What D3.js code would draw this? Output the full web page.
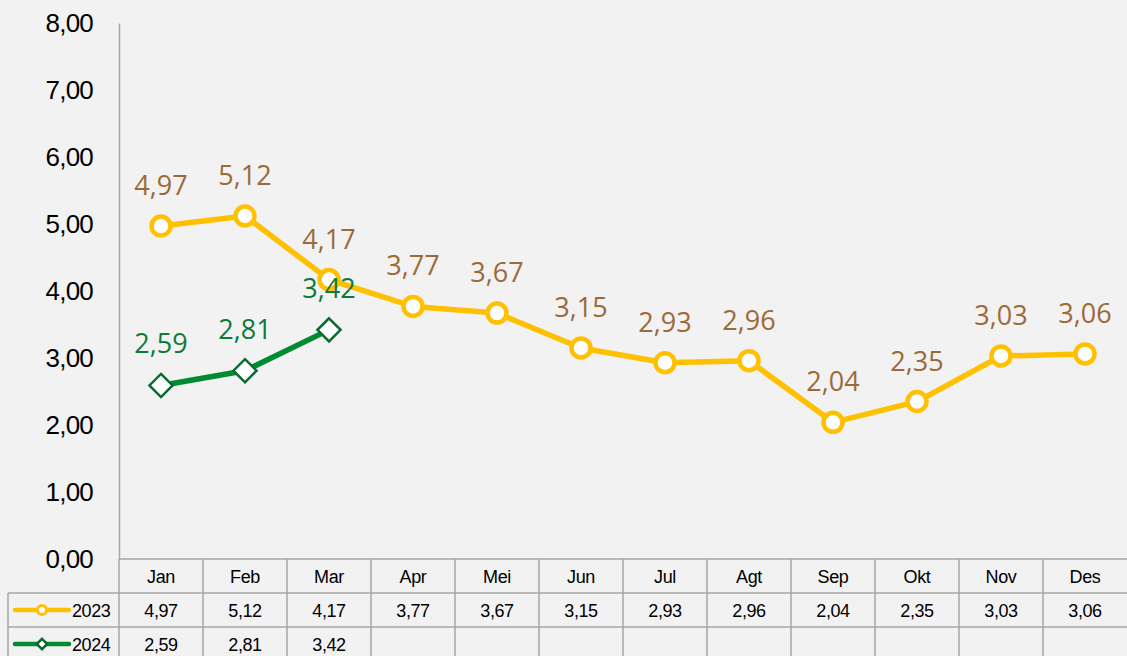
<!DOCTYPE html>
<html>
<head>
<meta charset="utf-8">
<script src="https://cdn.jsdelivr.net/npm/d3@7"></script>
<style>
  body { margin: 0; background: #f2f2f2; }
  svg { display: block; }
  .narrow { font-family: "Liberation Sans Narrow", "Arial Narrow", "Liberation Sans", sans-serif; }
</style>
</head>
<body>
<svg width="1127" height="656"></svg>
<script>
// Data
var months = ["Jan", "Feb", "Mar", "Apr", "Mei", "Jun", "Jul", "Agt", "Sep", "Okt", "Nov", "Des"];
var values2023 = [4.97, 5.12, 4.17, 3.77, 3.67, 3.15, 2.93, 2.96, 2.04, 2.35, 3.03, 3.06];
var values2024 = [2.59, 2.81, 3.42];
var yTicks = [0, 1, 2, 3, 4, 5, 6, 7, 8];

var svg = d3.select("svg"),
  width = +svg.attr("width"),
  height = +svg.attr("height");

var locale = d3.formatLocale({ decimal: ",", thousands: ".", grouping: [3], currency: ["", ""] });
var fmt = locale.format(".2f");

var gridColor = "#a6a6a6";
var yellow = "#ffc000";
var green = "#008a32";
var greenDark = "#0a6b31";

// Scales
var x = d3.scaleBand()
  .domain(months)
  .range([119, 1127]);

var y = d3.scaleLinear()
  .domain([0, 8])
  .range([559, 23]);

// Y axis
var yAxis = svg.append("g")
  .attr("class", "narrow")
  .attr("transform", "translate(119,0)")
  .call(d3.axisLeft(y).tickValues(yTicks).tickSize(0).tickPadding(26).tickFormat(fmt));
yAxis.select(".domain").attr("stroke", gridColor).attr("stroke-width", 1.5);
yAxis.selectAll("text")
  .attr("font-size", 26)
  .attr("font-family", null)
  .attr("letter-spacing", "-0.8px")
  .attr("fill", "#000");

// Table
var rowTop = [559, 593, 627, 661];
var table = svg.append("g").attr("class", "narrow");

// horizontal lines
table.append("line")
  .attr("x1", 119).attr("x2", width).attr("y1", rowTop[0]).attr("y2", rowTop[0])
  .attr("stroke", gridColor).attr("stroke-width", 1.5);
[rowTop[1], rowTop[2]].forEach(function(yy) {
  table.append("line")
    .attr("x1", 8).attr("x2", width).attr("y1", yy).attr("y2", yy)
    .attr("stroke", gridColor).attr("stroke-width", 1.5);
});
// vertical lines
table.append("line")
  .attr("x1", 8).attr("x2", 8).attr("y1", rowTop[1]).attr("y2", height)
  .attr("stroke", gridColor).attr("stroke-width", 1.5);
months.forEach(function(m) {
  table.append("line")
    .attr("x1", x(m)).attr("x2", x(m)).attr("y1", rowTop[0]).attr("y2", height)
    .attr("stroke", gridColor).attr("stroke-width", 1.5);
});

// header labels
table.selectAll(".month")
  .data(months)
  .enter()
  .append("text")
    .attr("x", function(d) { return x(d) + x.bandwidth() / 2; })
    .attr("y", 583)
    .attr("text-anchor", "middle")
    .attr("font-size", 18)
    .attr("letter-spacing", "-0.4px")
    .text(function(d) { return d; });

// row values
var rows = [
  { name: "2023", values: values2023, color: yellow, shape: "circle" },
  { name: "2024", values: values2024, color: green, shape: "diamond" }
];

rows.forEach(function(r, i) {
  var cy = rowTop[i + 1] + 17;
  table.selectAll(".v" + i)
    .data(r.values)
    .enter()
    .append("text")
      .attr("x", function(d, j) { return x(months[j]) + x.bandwidth() / 2; })
      .attr("y", cy + 7)
      .attr("text-anchor", "middle")
      .attr("font-size", 18)
      .attr("letter-spacing", "-0.4px")
      .text(function(d) { return fmt(d); });

  // legend key
  table.append("line")
    .attr("x1", 15).attr("x2", 69).attr("y1", cy).attr("y2", cy)
    .attr("stroke", r.color).attr("stroke-width", 4.5).attr("stroke-linecap", "round");
  if (r.shape === "circle") {
    table.append("circle")
      .attr("cx", 42).attr("cy", cy).attr("r", 4.5)
      .attr("fill", "#fff").attr("stroke", r.color).attr("stroke-width", 3);
  } else {
    table.append("path")
      .attr("d", d3.symbol().type(d3.symbolDiamond2).size(70))
      .attr("transform", "translate(42," + cy + ")")
      .attr("fill", "#fff").attr("stroke", greenDark).attr("stroke-width", 2.5);
  }
  table.append("text")
    .attr("x", 72)
    .attr("y", cy + 7)
    .attr("font-size", 18)
    .attr("letter-spacing", "-0.4px")
    .text(r.name);
});

// Lines
var cx = function(d, j) { return x(months[j]) + x.bandwidth() / 2; };
var line = d3.line()
  .x(cx)
  .y(function(d) { return y(d); });

svg.append("path")
  .datum(values2023)
  .attr("d", line)
  .attr("fill", "none")
  .attr("stroke", yellow)
  .attr("stroke-width", 5.5)
  .attr("stroke-linejoin", "round");

svg.append("path")
  .datum(values2024)
  .attr("d", line)
  .attr("fill", "none")
  .attr("stroke", green)
  .attr("stroke-width", 5.5)
  .attr("stroke-linejoin", "round");

// Markers
svg.append("g")
  .selectAll("circle")
  .data(values2023)
  .enter()
  .append("circle")
    .attr("cx", cx)
    .attr("cy", function(d) { return y(d); })
    .attr("r", 9.5)
    .attr("fill", "#fff")
    .attr("stroke", yellow)
    .attr("stroke-width", 4.5);

svg.append("g")
  .selectAll("path")
  .data(values2024)
  .enter()
  .append("path")
    .attr("d", d3.symbol().type(d3.symbolDiamond2).size(340))
    .attr("transform", function(d, j) { return "translate(" + cx(d, j) + "," + y(d) + ")"; })
    .attr("fill", "#fff")
    .attr("stroke", greenDark)
    .attr("stroke-width", 2.5);

// Data labels
svg.append("g")
  .selectAll("text")
  .data(values2023)
  .enter()
  .append("text")
    .attr("x", cx)
    .attr("y", function(d) { return y(d) - 31; })
    .attr("text-anchor", "middle")
    .attr("font-family", "'Open Sans', sans-serif")
    .attr("font-size", 27)
    .attr("fill", "#9c6a38")
    .text(function(d) { return fmt(d); });

svg.append("g")
  .selectAll("text")
  .data(values2024)
  .enter()
  .append("text")
    .attr("x", cx)
    .attr("y", function(d) { return y(d) - 32; })
    .attr("text-anchor", "middle")
    .attr("font-family", "'Open Sans', sans-serif")
    .attr("font-size", 27)
    .attr("fill", "#0e7a3a")
    .text(function(d) { return fmt(d); });
</script>
</body>
</html>
